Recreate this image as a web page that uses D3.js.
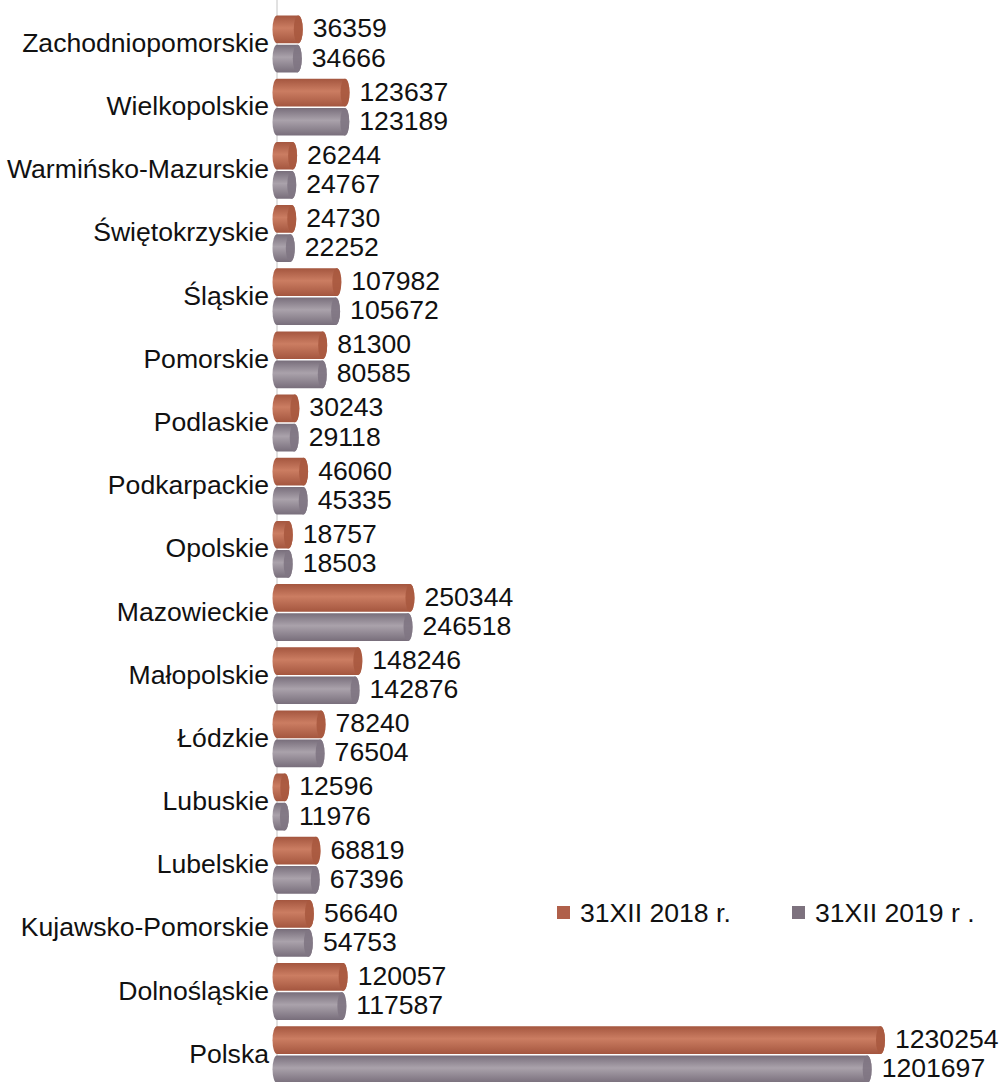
<!DOCTYPE html>
<html>
<head>
<meta charset="utf-8">
<script src="https://cdn.jsdelivr.net/npm/d3@7"></script>
<style>
  body { margin: 0; background: #fff; }
  svg text { font-family: "Liberation Sans", Arial, sans-serif; font-size: 26.6px; fill: #111; }
</style>
</head>
<body>
<svg id="chart" width="1001" height="1082"></svg>
<script>
// data, top to bottom as in the picture
const regions = ['Zachodniopomorskie','Wielkopolskie','Warmińsko-Mazurskie','Świętokrzyskie','Śląskie','Pomorskie','Podlaskie','Podkarpackie','Opolskie','Mazowieckie','Małopolskie','Łódzkie','Lubuskie','Lubelskie','Kujawsko-Pomorskie','Dolnośląskie','Polska'];
const values2018 = [36359,123637,26244,24730,107982,81300,30243,46060,18757,250344,148246,78240,12596,68819,56640,120057,1230254];
const values2019 = [34666,123189,24767,22252,105672,80585,29118,45335,18503,246518,142876,76504,11976,67396,54753,117587,1201697];
const seriesNames = ['31XII 2018 r.','31XII 2019 r .'];

const w = 1001, h = 1082;
const svg = d3.select('#chart');

const series = [
  {key: 's2018', name: seriesNames[0], values: values2018, dark: '#a4563f', light: '#cb7d62', cap: '#a9593f', legend: '#b0604a'},
  {key: 's2019', name: seriesNames[1], values: values2019, dark: '#786e7b', light: '#aaa2ab', cap: '#7f7583', legend: '#7d727e'}
];

const y = d3.scaleBand()
  .domain(regions)
  .range([12.4, 1086.3])
  .paddingInner(0.1)
  .paddingOuter(0.05);

const ySub = d3.scaleBand()
  .domain(series.map(s => s.key))
  .range([0, y.bandwidth()])
  .paddingInner(0.05);

// bar lengths in the original are not quite linear, a pow scale fits them better
const x = d3.scalePow().exponent(0.95)
  .domain([0, d3.max(values2018)])
  .range([277, 880.5]);

const capR = 4.5;

// gradients for cylinder look
const defs = svg.append('defs');
series.forEach(s => {
  const g = defs.append('linearGradient')
    .attr('id', 'grad-' + s.key)
    .attr('x1', 0).attr('y1', 0).attr('x2', 0).attr('y2', 1);
  g.append('stop').attr('offset', '0%').attr('stop-color', s.dark);
  g.append('stop').attr('offset', '45%').attr('stop-color', s.light);
  g.append('stop').attr('offset', '100%').attr('stop-color', s.dark);
});

// axis line
svg.append('line')
  .attr('x1', x(0)).attr('x2', x(0))
  .attr('y1', 0).attr('y2', h)
  .attr('stroke', '#c4c4c4')
  .attr('stroke-width', 1);

const groups = svg.selectAll('g.region')
  .data(regions)
  .enter()
  .append('g')
  .attr('class', 'region')
  .attr('transform', d => `translate(0,${y(d)})`);

// category labels
groups.append('text')
  .attr('x', 269)
  .attr('y', y.bandwidth() / 2 + 8)
  .attr('text-anchor', 'end')
  .text(d => d);

series.forEach(s => {
  const bars = groups.append('g')
    .attr('transform', `translate(0,${ySub(s.key)})`);
  const bh = ySub.bandwidth();

  bars.append('rect')
    .attr('x', x(0) - capR)
    .attr('y', 0)
    .attr('width', (d, i) => x(s.values[i]) - x(0) + 2 * capR)
    .attr('height', bh)
    .attr('rx', capR)
    .attr('ry', bh / 2)
    .attr('fill', `url(#grad-${s.key})`);

  bars.append('ellipse')
    .attr('cx', (d, i) => x(s.values[i]))
    .attr('cy', bh / 2)
    .attr('rx', capR)
    .attr('ry', bh / 2)
    .attr('fill', s.cap)
    .attr('opacity', 0.9);

  bars.append('text')
    .attr('x', (d, i) => x(s.values[i]) + capR + 10)
    .attr('y', bh / 2 + 8)
    .text((d, i) => s.values[i]);
});

// legend
const legend = svg.append('g').attr('class', 'legend');
const legendX = [557, 792];
series.forEach((s, i) => {
  legend.append('rect')
    .attr('x', legendX[i])
    .attr('y', 906)
    .attr('width', 13)
    .attr('height', 13)
    .attr('fill', s.legend);
  legend.append('text')
    .attr('x', legendX[i] + 23)
    .attr('y', 922)
    .text(s.name);
});
</script>
</body>
</html>
